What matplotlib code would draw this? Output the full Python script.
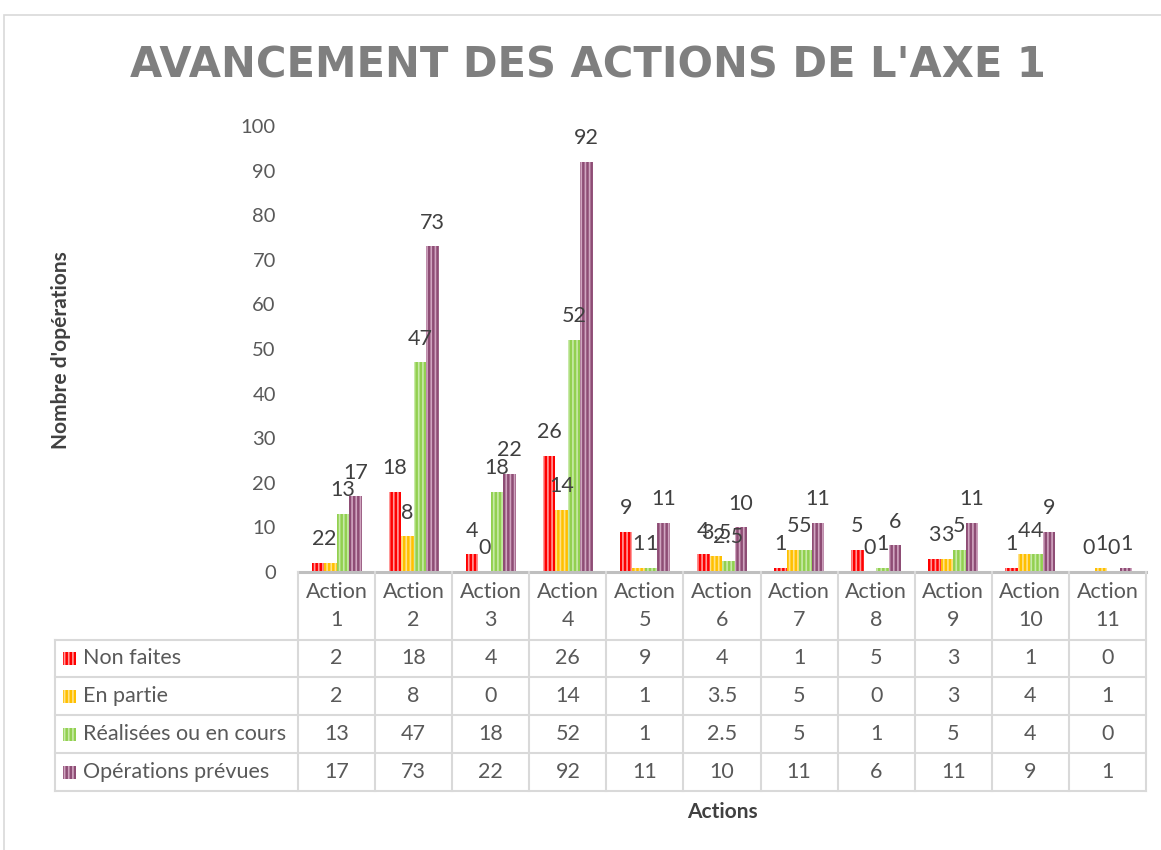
import matplotlib.pyplot as plt
from matplotlib.patches import Rectangle
from matplotlib.lines import Line2D

plt.rcParams['font.family'] = ['Lato', 'DejaVu Sans']
plt.rcParams['hatch.linewidth'] = 1.2

# data
categories = ['Action\n1', 'Action\n2', 'Action\n3', 'Action\n4', 'Action\n5', 'Action\n6',
              'Action\n7', 'Action\n8', 'Action\n9', 'Action\n10', 'Action\n11']
series_names = ['Non faites', 'En partie', 'Réalisées ou en cours', 'Opérations prévues']
non_faites = [2, 18, 4, 26, 9, 4, 1, 5, 3, 1, 0]
en_partie = [2, 8, 0, 14, 1, 3.5, 5, 0, 3, 4, 1]
realisees = [13, 47, 18, 52, 1, 2.5, 5, 1, 5, 4, 0]
prevues = [17, 73, 22, 92, 11, 10, 11, 6, 11, 9, 1]
series = [non_faites, en_partie, realisees, prevues]

colors = ['#FF0000', '#FFC000', '#92D050', '#8E4D75']
stripes = ['#FF9A9A', '#FFE28A', '#C8EAA8', '#D0A5C0']

W, H = 1161, 850
fig = plt.figure(figsize=(W / 100, H / 100), dpi=100)

def fx(x):
    return x / W

def fy(y):
    return 1 - y / H

def fmt(v):
    return str(int(v)) if float(v).is_integer() else str(v)

# plot area in pixels
left, right, top, bottom = 298, 1146, 126, 572
ax = fig.add_axes([fx(left), fy(bottom), fx(right - left), fy(top) - fy(bottom)])
n = len(categories)
ax.set_xlim(0, n)
ax.set_ylim(0, 100)
col_px = (right - left) / n
bw = 12.5 / col_px
offs = [-1.5, -0.5, 0.5, 1.5]

for s, vals in enumerate(series):
    xs = [i + 0.5 + offs[s] * bw for i in range(n)]
    ax.bar(xs, vals, width=bw, color=colors[s], edgecolor=stripes[s],
           linewidth=0, hatch='||||')
    for x, v in zip(xs, vals):
        ax.annotate(fmt(v), (x, v), xytext=(0, 17), textcoords='offset points',
                    ha='center', va='center', fontsize=15.5, color='#404040')

for sp in ax.spines.values():
    sp.set_visible(False)
ax.set_xticks([])
ax.set_yticks(range(0, 101, 10))
ax.tick_params(axis='y', length=0, pad=16, labelsize=14.5, labelcolor='#595959')
ax.patch.set_alpha(0)

# title
fig.text(fx(588), fy(66), "AVANCEMENT DES ACTIONS DE L'AXE 1", ha='center', va='center',
         fontsize=30, fontweight='bold', color='#7F7F7F', family=['DejaVu Sans'])

# axis titles
fig.text(fx(61), fy(350), "Nombre d'opérations", rotation=90, ha='center', va='center',
         fontsize=15, fontweight='bold', color='#404040')
fig.text(fx(722), fy(812), 'Actions', ha='center', va='center',
         fontsize=15, fontweight='bold', color='#404040')

# data table
grid_c = '#D9D9D9'
row_y = [572, 640, 677, 715, 753, 791]
tab_left = 55
col_x = [left + i * col_px for i in range(n + 1)]

def hline(y, x0, x1, lw=1.5, c=grid_c):
    fig.add_artist(Line2D([fx(x0), fx(x1)], [fy(y), fy(y)], color=c, lw=lw))

def vline(x, y0, y1):
    fig.add_artist(Line2D([fx(x), fx(x)], [fy(y0), fy(y1)], color=grid_c, lw=1.5))

hline(row_y[0], left, right, lw=2.2, c='#BFBFBF')
for y in row_y[1:]:
    hline(y, tab_left, right)
for x in col_x:
    vline(x, row_y[0], row_y[-1])
vline(tab_left, row_y[1], row_y[-1])

for i, cat in enumerate(categories):
    cx = (col_x[i] + col_x[i + 1]) / 2
    fig.text(fx(cx), fy((row_y[0] + row_y[1]) / 2), cat, ha='center', va='center',
             fontsize=15.5, color='#595959', linespacing=1.45)

for s, vals in enumerate(series):
    cy = (row_y[s + 1] + row_y[s + 2]) / 2
    fig.add_artist(Rectangle((fx(63), fy(cy + 6.5)), fx(13), fy(0) - fy(13),
                             facecolor=colors[s], edgecolor=stripes[s], lw=0,
                             hatch='||||', transform=fig.transFigure))
    fig.text(fx(83), fy(cy), series_names[s], ha='left', va='center',
             fontsize=15.5, color='#595959')
    for i, v in enumerate(vals):
        cx = (col_x[i] + col_x[i + 1]) / 2
        fig.text(fx(cx), fy(cy), fmt(v), ha='center', va='center',
                 fontsize=15.5, color='#595959')

# chart border
fig.add_artist(Rectangle((fx(4), fy(860)), fx(1170), fy(15) - fy(860), fill=False,
                         edgecolor='#D9D9D9', lw=1.2, transform=fig.transFigure))

fig.savefig('out.png', dpi=100)
